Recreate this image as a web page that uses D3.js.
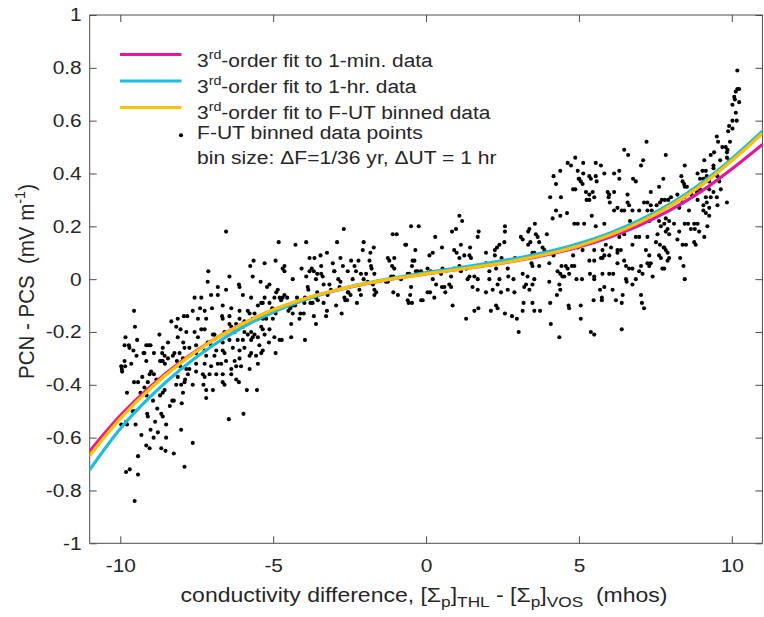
<!DOCTYPE html>
<html>
<head>
<meta charset="utf-8">
<script src="https://cdn.jsdelivr.net/npm/d3@7"></script>
<style>
  html, body { margin: 0; padding: 0; background: #fff; }
  svg { display: block; }
  text { font-family: "Liberation Sans", Arial, Helvetica, sans-serif; fill: #262626; }
</style>
</head>
<body>
<svg id="chart" width="764" height="617"></svg>
<script>
// ---------------- DATA ----------------
const xTicks = [-10, -5, 0, 5, 10];
const xTickLabels = ["-10", "-5", "0", "5", "10"];
const yTicks = [-1, -0.8, -0.6, -0.4, -0.2, 0, 0.2, 0.4, 0.6, 0.8, 1];
const yTickLabels = ["-1", "-0.8", "-0.6", "-0.4", "-0.2", "0", "0.2", "0.4", "0.6", "0.8", "1"];

// x positions at which the fit curves were read
const fitX = [-11,-10,-9,-8,-7,-6,-5,-4,-3,-2,-1,0,1,2,3,4,5,6,7,8,9,10,11];
// 3rd-order fit to 1-min. data (magenta)
const fitMin = [-0.652,-0.517,-0.405,-0.311,-0.233,-0.169,-0.117,-0.076,-0.044,-0.018,0.003,0.020,0.036,0.052,0.071,0.094,0.122,0.159,0.205,0.262,0.332,0.417,0.510];
// 3rd-order fit to 1-hr. data (cyan)
const fitHr = [-0.722,-0.566,-0.443,-0.339,-0.253,-0.182,-0.125,-0.080,-0.044,-0.016,0.006,0.025,0.042,0.060,0.080,0.104,0.135,0.174,0.224,0.286,0.363,0.456,0.560];
// 3rd-order fit to F-UT binned data (yellow)
const fitBinned = [-0.668,-0.528,-0.412,-0.315,-0.234,-0.169,-0.116,-0.075,-0.043,-0.017,0.003,0.020,0.036,0.052,0.072,0.096,0.126,0.166,0.216,0.278,0.355,0.448,0.552];

const seriesNames = [
  ["3", "rd", "-order fit to 1-min. data"],
  ["3", "rd", "-order fit to 1-hr. data"],
  ["3", "rd", "-order fit to F-UT binned data"]
];
const pointsName = "F-UT binned data points";
const binSizeNote = "bin size: \u0394F=1/36 yr, \u0394UT = 1 hr";

// F-UT binned data points [x, y]
const binnedPoints = [
[-9.55,-0.12],[-9.52,-0.18],[-9.83,-0.22],[-9.45,-0.23],[-9.86,-0.25],[-9.72,-0.25],[-9.70,-0.26],[-9.57,-0.27],[-9.47,-0.29],[-9.64,-0.32],
[-9.97,-0.33],[-9.84,-0.33],[-9.95,-0.34],[-9.94,-0.35],[-9.86,-0.31],[-9.15,-0.25],[-9.08,-0.25],[-9.01,-0.25],[-9.21,-0.28],[-9.24,-0.28],
[-9.15,-0.31],[-8.90,-0.28],[-8.72,-0.21],[-8.61,-0.26],[-8.63,-0.28],[-8.55,-0.29],[-8.44,-0.24],[-8.66,-0.31],[-8.61,-0.31],[-8.54,-0.32],
[-8.70,-0.31],[-8.44,-0.30],[-8.33,-0.16],[-8.12,-0.15],[-7.92,-0.14],[-7.81,-0.14],[-8.17,-0.18],[-8.03,-0.19],[-7.84,-0.20],[-8.12,-0.22],
[-7.94,-0.24],[-7.90,-0.26],[-8.23,-0.28],[-8.06,-0.28],[-8.15,-0.31],[-8.28,-0.29],[-7.95,-0.30],[-8.04,-0.33],[-7.84,-0.34],[-7.79,-0.36],
[-7.88,-0.38],[-7.90,-0.39],[-8.12,-0.37],[-8.17,-0.40],[-8.01,-0.40],[-7.95,-0.43],[-7.99,-0.47],[-8.25,-0.46],[-8.30,-0.46],[-8.38,-0.48],
[-8.55,-0.42],[-8.61,-0.43],[-8.82,-0.38],[-8.90,-0.36],[-8.99,-0.35],[-9.04,-0.36],[-9.10,-0.39],[-9.28,-0.37],[-9.42,-0.39],[-9.55,-0.39],
[-9.21,-0.41],[-9.34,-0.43],[-9.14,-0.44],[-8.93,-0.46],[-8.70,-0.44],[-9.12,-0.51],[-9.10,-0.52],[-8.79,-0.49],[-8.66,-0.51],[-8.61,-0.52],
[-8.86,-0.54],[-9.01,-0.57],[-8.77,-0.58],[-8.91,-0.60],[-8.50,-0.60],[-8.50,-0.55],[-9.31,-0.59],[-9.78,-0.43],[-9.59,-0.50],[-9.53,-0.50],
[-9.81,-0.54],[-9.97,-0.55],[-9.78,-0.55],[-9.50,-0.55],[-9.42,-0.67],[-9.15,-0.63],[-9.04,-0.64],[-8.66,-0.64],[-8.52,-0.65],[-8.25,-0.66],
[-8.01,-0.57],[-7.90,-0.71],[-9.69,-0.72],[-9.81,-0.73],[-9.42,-0.74],[-9.53,-0.84],
[-6.54,0.18],[-4.82,0.14],[-5.64,0.07],[-5.75,0.05],[-5.28,0.06],[-4.92,0.07],[-4.69,0.04],[-5.67,0.01],[-5.41,-0.01],[-7.12,0.03],
[-7.14,-0.01],[-6.43,0.01],[-6.12,-0.02],[-6.10,-0.03],[-6.81,-0.03],[-6.54,-0.04],[-5.12,-0.02],[-5.20,-0.03],[-4.85,-0.04],[-4.90,-0.05],
[-4.79,-0.07],[-4.96,-0.07],[-4.69,-0.07],[-7.03,-0.06],[-6.81,-0.06],[-7.35,-0.07],[-7.57,-0.07],[-5.99,-0.06],[-5.72,-0.07],[-5.28,-0.07],
[-5.34,-0.09],[-5.12,-0.09],[-5.39,-0.09],[-5.03,-0.11],[-4.74,-0.08],[-7.63,-0.12],[-7.39,-0.11],[-7.24,-0.12],[-7.00,-0.11],[-6.65,-0.10],
[-6.37,-0.11],[-6.10,-0.12],[-5.83,-0.12],[-5.77,-0.13],[-5.61,-0.13],[-5.50,-0.10],[-5.18,-0.13],[-4.92,-0.13],[-7.46,-0.15],[-7.19,-0.15],
[-6.67,-0.14],[-6.65,-0.15],[-6.43,-0.14],[-6.10,-0.15],[-5.94,-0.16],[-5.67,-0.15],[-5.50,-0.15],[-5.34,-0.15],[-5.23,-0.15],[-5.01,-0.15],
[-7.35,-0.19],[-7.24,-0.19],[-7.57,-0.20],[-6.43,-0.17],[-6.37,-0.18],[-6.21,-0.17],[-5.99,-0.18],[-5.72,-0.20],[-5.61,-0.21],[-5.39,-0.18],
[-5.34,-0.19],[-5.12,-0.19],[-7.46,-0.22],[-6.97,-0.21],[-6.92,-0.21],[-6.59,-0.20],[-6.26,-0.20],[-5.94,-0.20],[-5.83,-0.21],[-5.67,-0.22],
[-5.50,-0.22],[-5.28,-0.21],[-4.79,-0.23],[-4.72,-0.23],[-7.74,-0.26],[-7.52,-0.25],[-7.14,-0.24],[-7.03,-0.25],[-6.65,-0.24],[-6.43,-0.23],
[-6.16,-0.23],[-5.99,-0.23],[-5.72,-0.23],[-5.45,-0.25],[-5.14,-0.24],[-4.96,-0.22],[-7.24,-0.27],[-6.86,-0.27],[-6.65,-0.27],[-6.59,-0.28],
[-6.32,-0.26],[-6.10,-0.27],[-5.94,-0.26],[-5.72,-0.28],[-5.39,-0.28],[-4.92,-0.28],[-5.34,-0.27],[-7.52,-0.28],[-7.19,-0.29],[-6.92,-0.29],
[-6.70,-0.32],[-6.54,-0.31],[-6.26,-0.31],[-6.10,-0.30],[-5.77,-0.29],[-5.56,-0.29],[-7.52,-0.32],[-7.24,-0.32],[-7.03,-0.33],[-6.81,-0.32],
[-6.37,-0.34],[-6.21,-0.33],[-6.05,-0.33],[-5.50,-0.32],[-7.74,-0.34],[-7.52,-0.35],[-7.30,-0.36],[-7.24,-0.37],[-7.08,-0.36],[-6.86,-0.36],
[-6.65,-0.36],[-6.37,-0.36],[-6.21,-0.38],[-5.77,-0.34],[-7.63,-0.40],[-7.28,-0.40],[-7.19,-0.42],[-6.97,-0.42],[-6.65,-0.39],[-6.59,-0.40],
[-6.12,-0.39],[-5.86,-0.42],[-5.53,-0.42],[-7.19,-0.45],[-6.45,-0.53],[-5.97,-0.51],[-7.63,-0.62],
[-2.69,0.19],[-4.27,0.13],[-3.92,0.14],[-2.91,0.14],[-2.04,0.14],[-1.71,0.12],[-3.24,0.10],[-2.07,0.11],[-1.82,0.10],[-3.45,0.09],
[-3.81,0.08],[-3.65,0.08],[-2.80,0.08],[-3.05,0.06],[-2.45,0.07],[-1.85,0.07],[-2.21,0.07],[-4.63,0.05],[-4.07,0.04],[-3.74,0.04],
[-3.43,0.05],[-3.00,0.03],[-2.72,0.05],[-2.34,0.05],[-1.80,0.05],[-1.78,0.04],[-4.63,0.03],[-3.81,0.03],[-3.67,0.03],[-3.56,0.02],
[-3.43,0.02],[-3.38,0.01],[-3.00,0.03],[-2.56,0.03],[-2.29,0.03],[-2.13,0.02],[-1.96,0.02],[-1.69,0.02],[-4.36,0.00],[-3.92,0.01],
[-3.60,0.00],[-2.87,0.00],[-2.80,-0.01],[-2.40,0.00],[-2.04,0.00],[-3.35,-0.02],[-3.16,-0.02],[-1.91,-0.01],[-1.74,-0.02],[-3.87,-0.03],
[-3.85,-0.04],[-3.11,-0.04],[-2.83,-0.03],[-2.18,-0.04],[-2.56,-0.05],[-2.54,-0.05],[-1.69,-0.04],[-1.63,-0.05],[-4.63,-0.06],[-4.54,-0.07],
[-4.22,-0.07],[-3.96,-0.07],[-3.56,-0.05],[-3.60,-0.07],[-3.22,-0.06],[-2.67,-0.07],[-2.47,-0.06],[-2.13,-0.06],[-1.69,-0.06],[-4.47,-0.10],
[-4.36,-0.10],[-4.28,-0.10],[-3.98,-0.09],[-3.78,-0.09],[-3.71,-0.09],[-3.54,-0.08],[-3.35,-0.09],[-2.94,-0.10],[-2.64,-0.08],[-2.26,-0.09],
[-2.58,-0.08],[-4.50,-0.12],[-4.44,-0.11],[-4.36,-0.13],[-4.11,-0.13],[-4.00,-0.13],[-4.14,-0.15],[-3.67,-0.14],[-3.24,-0.12],[-3.27,-0.14],
[-2.76,-0.13],[-4.41,-0.17],[-3.60,-0.17],[-4.41,-0.22],[-3.96,-0.23],
[1.09,0.24],[1.18,0.22],[-0.49,0.20],[-0.24,0.20],[0.85,0.18],[0.98,0.19],[-1.09,0.17],[-0.96,0.17],[-0.68,0.13],[-0.65,0.13],
[0.30,0.16],[-0.35,0.11],[0.52,0.12],[0.92,0.11],[1.00,0.10],[1.44,0.12],[1.14,0.13],[-1.25,0.08],[-1.04,0.08],[-1.20,0.07],
[0.11,0.09],[0.22,0.10],[1.09,0.08],[1.25,0.09],[1.42,0.09],[1.47,0.08],[-0.44,0.07],[-0.38,0.07],[-1.11,0.05],[-1.04,0.04],
[-0.46,0.05],[-0.33,0.03],[0.05,0.04],[0.54,0.04],[0.92,0.04],[1.09,0.05],[1.14,0.03],[1.31,0.04],[1.42,0.01],[-1.14,0.01],
[-1.07,0.01],[-0.60,0.02],[-0.55,0.02],[-0.27,0.03],[-0.16,0.03],[0.16,0.03],[0.22,0.00],[0.49,0.02],[0.82,0.01],[1.36,0.00],
[-1.25,-0.01],[-1.31,-0.01],[-0.82,0.00],[0.33,-0.02],[0.60,-0.03],[0.76,-0.02],[0.82,-0.03],[1.52,-0.03],[-0.49,-0.03],[-1.07,-0.05],
[-0.92,-0.06],[-0.52,-0.06],[0.05,-0.05],[0.13,-0.05],[0.27,-0.07],[0.52,-0.03],[0.63,-0.05],[-0.60,-0.08],[-0.46,-0.09],[-0.57,-0.09],
[-0.16,-0.08],[-0.11,-0.08],[0.87,-0.10],[1.31,-0.15],
[4.63,0.44],[4.39,0.41],[4.17,0.39],[4.25,0.36],[4.06,0.31],[4.41,0.31],[4.25,0.26],[4.14,0.23],[4.39,0.24],[4.61,0.25],
[1.72,0.18],[1.69,0.16],[2.58,0.20],[2.58,0.18],[3.56,0.21],[3.38,0.19],[3.34,0.18],[3.59,0.17],[3.65,0.16],[3.95,0.17],
[2.40,0.13],[2.32,0.12],[2.25,0.11],[2.56,0.14],[3.10,0.16],[3.16,0.15],[3.41,0.14],[3.34,0.13],[3.70,0.14],[3.81,0.12],
[3.87,0.11],[1.96,0.10],[2.25,0.09],[2.47,0.08],[2.91,0.08],[3.48,0.10],[3.54,0.10],[4.17,0.09],[4.39,0.11],[4.50,0.11],
[1.58,0.05],[1.96,0.06],[2.07,0.03],[2.29,0.04],[2.67,0.04],[2.69,0.01],[3.16,0.02],[3.45,0.06],[3.48,0.05],[3.70,0.05],
[4.03,0.06],[4.43,0.05],[4.57,0.05],[4.63,0.04],[4.30,0.03],[4.39,0.02],[4.52,0.01],[1.58,0.01],[1.69,0.00],[2.07,0.00],
[2.40,0.00],[2.34,-0.02],[2.86,0.00],[3.32,0.01],[3.54,0.00],[3.27,-0.02],[3.48,-0.02],[4.03,-0.01],[4.46,0.01],[4.36,-0.02],
[1.69,-0.04],[1.96,-0.05],[2.18,-0.04],[2.45,-0.05],[2.67,-0.04],[2.89,-0.05],[3.21,-0.03],[3.38,-0.04],[4.39,-0.04],[4.28,-0.06],
[2.29,-0.10],[2.34,-0.11],[1.71,-0.11],[1.58,-0.12],[2.12,-0.12],[3.19,-0.09],[3.16,-0.12],[3.48,-0.09],[3.54,-0.12],[3.73,-0.12],
[4.06,-0.09],[2.58,-0.13],[2.81,-0.14],[2.97,-0.15],[4.66,-0.10],[3.03,-0.20],[4.08,-0.17],[4.36,-0.22],
[7.21,0.52],[6.48,0.49],[6.61,0.47],[4.88,0.46],[5.14,0.44],[5.55,0.44],[4.74,0.43],[5.72,0.43],[6.32,0.41],[6.15,0.40],
[4.96,0.41],[5.14,0.40],[5.34,0.39],[5.39,0.38],[5.55,0.39],[5.58,0.37],[5.83,0.40],[4.99,0.38],[5.06,0.37],[5.12,0.36],
[5.01,0.38],[7.03,0.43],[7.10,0.45],[6.77,0.38],[6.86,0.37],[6.32,0.38],[7.62,0.35],[7.76,0.38],[4.88,0.34],[4.81,0.34],
[5.23,0.33],[5.34,0.32],[5.45,0.33],[5.25,0.30],[5.34,0.30],[5.50,0.31],[5.94,0.33],[5.99,0.32],[6.15,0.33],[5.97,0.31],
[6.59,0.32],[7.35,0.33],[7.71,0.30],[6.59,0.29],[6.64,0.28],[7.13,0.29],[7.24,0.29],[7.35,0.28],[7.54,0.28],[7.65,0.29],
[6.01,0.29],[6.26,0.27],[6.15,0.26],[6.40,0.26],[6.48,0.26],[6.75,0.26],[6.97,0.26],[7.24,0.26],[7.38,0.26],[5.42,0.24],
[4.85,0.21],[4.96,0.21],[5.17,0.21],[5.55,0.20],[5.83,0.21],[6.67,0.22],[7.62,0.22],[7.30,0.22],[7.68,0.20],[5.77,0.16],
[6.32,0.16],[6.48,0.17],[6.97,0.16],[7.24,0.16],[7.57,0.17],[6.86,0.16],[5.88,0.13],[6.05,0.12],[6.26,0.11],[6.75,0.13],
[7.52,0.14],[7.65,0.13],[7.77,0.12],[4.90,0.13],[4.96,0.12],[5.12,0.11],[5.50,0.11],[5.77,0.11],[5.83,0.09],[5.99,0.09],
[6.26,0.10],[6.37,0.11],[7.19,0.11],[7.30,0.09],[7.62,0.09],[7.68,0.08],[4.81,0.09],[4.85,0.05],[4.77,0.05],[5.34,0.07],
[5.50,0.07],[5.72,0.08],[5.77,0.08],[6.26,0.06],[6.48,0.07],[7.24,0.06],[7.35,0.06],[7.73,0.04],[4.68,0.02],[4.92,0.00],
[5.10,0.00],[5.36,0.02],[5.50,0.01],[5.50,0.00],[5.77,0.02],[5.99,0.02],[6.12,0.02],[6.54,0.05],[6.64,0.04],[6.75,0.04],
[6.97,0.03],[7.03,0.05],[7.30,0.05],[7.41,0.01],[6.54,0.00],[6.56,-0.01],[6.75,-0.02],[6.86,0.00],[7.08,0.02],[5.83,-0.03],
[5.69,-0.04],[6.10,-0.04],[6.43,-0.06],[7.03,-0.06],[5.48,-0.08],[5.75,-0.07],[5.75,-0.08],[6.21,-0.08],[6.40,-0.09],[7.06,-0.09],
[7.13,-0.11],[4.68,-0.11],[5.06,-0.10],[5.06,-0.15],[5.39,-0.20],[5.50,-0.21],[6.40,-0.19],
[10.18,0.79],[10.18,0.72],[10.13,0.71],[10.24,0.72],[10.08,0.69],[10.10,0.68],[10.02,0.66],[10.24,0.67],[10.13,0.63],[10.16,0.60],
[10.02,0.60],[9.91,0.58],[10.02,0.57],[9.88,0.56],[9.94,0.52],[9.80,0.50],[9.69,0.50],[9.86,0.49],[9.84,0.48],[9.51,0.54],
[9.55,0.52],[9.42,0.48],[9.31,0.47],[9.84,0.46],[9.91,0.45],[9.62,0.45],[9.10,0.45],[9.40,0.43],[8.46,0.43],[9.40,0.42],
[9.15,0.41],[9.04,0.41],[8.88,0.40],[8.35,0.39],[8.96,0.38],[9.07,0.38],[9.18,0.39],[9.53,0.39],[9.59,0.37],[9.26,0.37],
[8.39,0.37],[8.44,0.36],[8.53,0.35],[8.46,0.35],[9.64,0.34],[9.26,0.34],[7.84,0.47],[8.01,0.31],[8.22,0.32],[7.81,0.30],
[7.92,0.30],[8.44,0.31],[8.68,0.32],[8.86,0.33],[8.96,0.34],[9.40,0.33],[9.51,0.31],[9.31,0.31],[9.15,0.31],[8.39,0.29],
[8.28,0.27],[8.60,0.26],[8.88,0.30],[9.07,0.28],[9.18,0.29],[9.53,0.28],[9.84,0.29],[9.26,0.27],[9.07,0.26],[9.15,0.25],
[9.26,0.24],[7.84,0.23],[7.95,0.22],[7.79,0.21],[8.11,0.21],[7.90,0.19],[7.84,0.18],[7.95,0.17],[8.46,0.21],[8.57,0.21],
[8.77,0.21],[8.88,0.21],[8.79,0.19],[8.66,0.19],[8.93,0.18],[9.20,0.20],[8.28,0.18],[9.10,0.16],[8.22,0.15],[8.39,0.13],
[8.50,0.13],[8.77,0.14],[8.82,0.13],[7.84,0.11],[7.90,0.10],[7.79,0.12],[7.95,0.08],[7.90,0.07],[8.31,0.08],[8.42,0.05],
[8.46,0.00],[7.79,0.04]
];

// ---------------- DRAWING ----------------
const COLORS = { min: "#e3169e", hr: "#1dbde0", binned: "#ffc000" };
const SX = 1.13;          // horizontal stretch of the original figure's text
const FONT = 18.5;

const svg = d3.select("#chart");
const x = d3.scaleLinear().domain([-11, 11]).range([89.7, 762.4]);
const y = d3.scaleLinear().domain([-1, 1]).range([543.3, 15]);

function stretchTexts(sel) {
  sel.selectAll("text").each(function () {
    const t = d3.select(this);
    const tx = +t.attr("x") || 0, ty = +t.attr("y") || 0;
    t.attr("x", 0).attr("y", 0)
     .attr("transform", `translate(${tx},${ty}) scale(${SX},1)`);
  });
}

// axes (ticks point inward, mirrored on top/right)
const axisColor = "#4d4d4d";
const gx = svg.append("g").attr("transform", `translate(0,${y(-1)})`)
  .call(d3.axisBottom(x).tickValues(xTicks).tickFormat((d, i) => xTickLabels[i])
        .tickSizeInner(-7).tickSizeOuter(0).tickPadding(16));
const gy = svg.append("g").attr("transform", `translate(${x(-11)},0)`)
  .call(d3.axisLeft(y).tickValues(yTicks).tickFormat((d, i) => yTickLabels[i])
        .tickSizeInner(-7).tickSizeOuter(0).tickPadding(8));
const gxt = svg.append("g").attr("transform", `translate(0,${y(1)})`)
  .call(d3.axisTop(x).tickValues(xTicks).tickFormat("").tickSizeInner(-7).tickSizeOuter(0));
const gyr = svg.append("g").attr("transform", `translate(${x(11)},0)`)
  .call(d3.axisRight(y).tickValues(yTicks).tickFormat("").tickSizeInner(-7).tickSizeOuter(0));

[gx, gy, gxt, gyr].forEach(g => {
  g.select(".domain").remove();
  g.selectAll("line").attr("stroke", axisColor).attr("stroke-width", 1);
  g.selectAll("text").attr("font-size", FONT).attr("fill", "#262626")
   .attr("font-family", '"Liberation Sans", Arial, Helvetica, sans-serif');
});
stretchTexts(gx); stretchTexts(gy);

// frame
svg.append("rect")
  .attr("x", x(-11)).attr("y", y(1))
  .attr("width", x(11) - x(-11)).attr("height", y(-1) - y(1))
  .attr("fill", "none").attr("stroke", axisColor).attr("stroke-width", 1);

// clip for curves
svg.append("clipPath").attr("id", "plotClip").append("rect")
  .attr("x", x(-11)).attr("y", y(1))
  .attr("width", x(11) - x(-11)).attr("height", y(-1) - y(1));

// scatter points
svg.append("g").selectAll("circle").data(binnedPoints).join("circle")
  .attr("cx", d => x(d[0])).attr("cy", d => y(d[1])).attr("r", 2.05).attr("fill", "#000");

// fit curves
const line = d3.line().x((d, i) => x(fitX[i])).y(d => y(d)).curve(d3.curveCatmullRom);
const fits = [
  { vals: fitMin, color: COLORS.min },
  { vals: fitHr, color: COLORS.hr },
  { vals: fitBinned, color: COLORS.binned }
];
svg.append("g").attr("clip-path", "url(#plotClip)").selectAll("path").data(fits).join("path")
  .attr("d", d => line(d.vals)).attr("fill", "none")
  .attr("stroke", d => d.color).attr("stroke-width", 3.2);

// legend
const LFONT = 19;
const legend = svg.append("g");
const legLineY = [54.5, 81, 107.4];
const legTextY = [66.7, 92.9, 119.2];
const legColors = [COLORS.min, COLORS.hr, COLORS.binned];
seriesNames.forEach((parts, i) => {
  legend.append("line").attr("x1", 120).attr("x2", 181.5)
    .attr("y1", legLineY[i]).attr("y2", legLineY[i])
    .attr("stroke", legColors[i]).attr("stroke-width", 3);
  const t = legend.append("text").attr("font-size", LFONT)
    .attr("transform", `translate(197,${legTextY[i]}) scale(1.1,1)`);
  t.append("tspan").text(parts[0]);
  t.append("tspan").attr("font-size", 13).attr("dy", -8).text(parts[1]);
  t.append("tspan").attr("dy", 8).text(parts[2]);
});
legend.append("circle").attr("cx", 181).attr("cy", 135.2).attr("r", 2.05).attr("fill", "#000");
legend.append("text").attr("font-size", LFONT)
  .attr("transform", `translate(197,138.5) scale(1.11,1)`).text(pointsName);
legend.append("text").attr("font-size", LFONT)
  .attr("transform", `translate(197,163.5) scale(1.11,1)`).text(binSizeNote);

// x-axis label
const xl = svg.append("text").attr("font-size", 20).attr("text-anchor", "middle")
  .attr("transform", `translate(${(x(-11) + x(11)) / 2 - 2},601.5) scale(1.15,1)`);
xl.append("tspan").text("conductivity difference, [\u03A3");
xl.append("tspan").attr("font-size", 15).attr("dy", 5).text("p");
xl.append("tspan").attr("dy", -5).text("]");
xl.append("tspan").attr("font-size", 15).attr("dy", 5).text("THL");
xl.append("tspan").attr("dy", -5).text(" - [\u03A3");
xl.append("tspan").attr("font-size", 15).attr("dy", 5).text("p");
xl.append("tspan").attr("dy", -5).text("]");
xl.append("tspan").attr("font-size", 15).attr("dy", 5).text("VOS");
xl.append("tspan").attr("dy", -5).text("\u00A0\u00A0(mhos)");

// y-axis label
const yl = svg.append("text").attr("font-size", 20.5).attr("text-anchor", "middle")
  .attr("transform", `translate(34,281.5) rotate(-90) scale(1,1.05)`);
yl.append("tspan").text("PCN - PCS\u00A0\u00A0(mV m");
yl.append("tspan").attr("font-size", 14.5).attr("dy", -9).text("-1");
yl.append("tspan").attr("dy", 9).text(")");
</script>
</body>
</html>
